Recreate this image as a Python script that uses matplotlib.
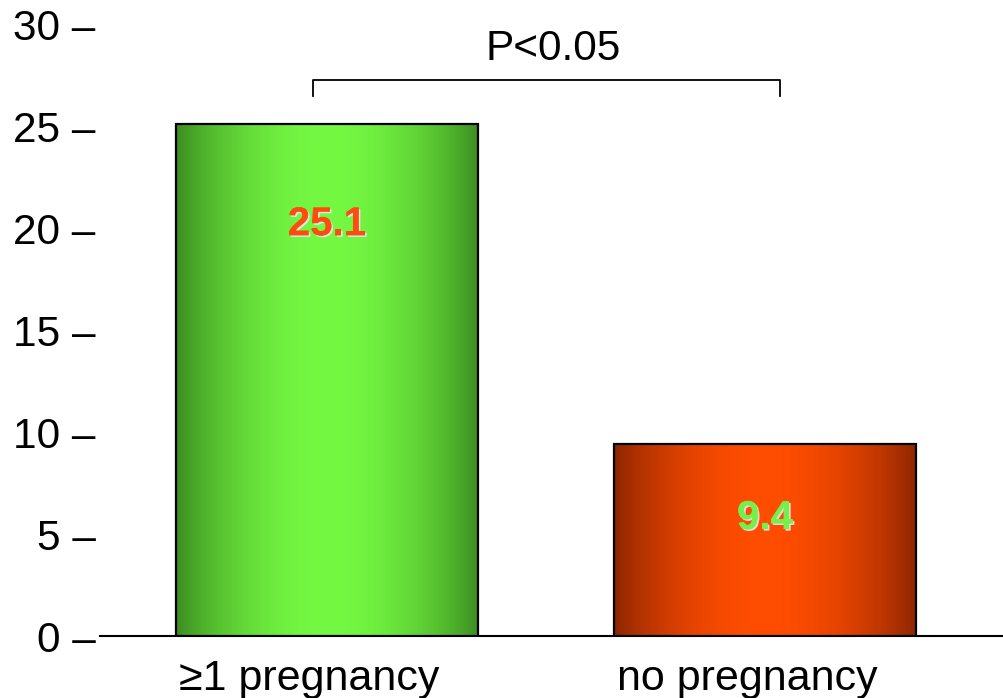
import numpy as np
import matplotlib.pyplot as plt
import matplotlib.patheffects as pe
import matplotlib.transforms as mtransforms
from matplotlib.colors import LinearSegmentedColormap

plt.rcParams['font.family'] = ['Liberation Sans', 'DejaVu Sans']

groups = ['≥1 pregnancy', 'no pregnancy']
values = [25.1, 9.4]
y_ticks = [0, 5, 10, 15, 20, 25, 30]
p_text = 'P<0.05'

# edge colour -> centre colour for each bar's horizontal gradient
bar_shades = [('#3a8a1f', '#74f842'), ('#8a2400', '#ff4d00')]
label_colors = ['#ff4a10', '#74f04a']
label_offsets = [-72, -53]  # points below the bar top


def gradient_bar(ax, x, h, width, edge, centre):
    cmap = LinearSegmentedColormap.from_list('g', [edge, centre])
    t = np.linspace(0, 1, 400)
    grad = (np.sin(np.pi * t) ** 0.8).reshape(1, -1)
    x0, x1 = x - width / 2, x + width / 2
    im = ax.imshow(grad, cmap=cmap, extent=(x0, x1, 0, h), aspect='auto',
                   interpolation='bicubic', vmin=0, vmax=1, zorder=2)
    rect = plt.Rectangle((x0, 0), width, h, facecolor='none',
                         edgecolor='black', linewidth=1.6, zorder=3)
    ax.add_patch(rect)
    im.set_clip_path(rect)


fig = plt.figure(figsize=(10.04, 6.98), dpi=100)
ax = fig.add_axes([100 / 1004, 62 / 698, 904 / 1004, 629 / 698])

xs = np.arange(len(groups))
width = 0.69
for x, v, (c0, c1), lc, off in zip(xs, values, bar_shades, label_colors, label_offsets):
    gradient_bar(ax, x, v, width, c0, c1)
    ax.annotate(f'{v}', (x, v), xytext=(0, off), textcoords='offset points',
                ha='center', va='center', fontsize=29, fontweight='bold',
                color=lc, zorder=4,
                path_effects=[pe.withSimplePatchShadow(offset=(1.2, -1.2),
                                                       shadow_rgbFace='#e8e8e8',
                                                       alpha=0.9),
                              pe.Normal()])

# significance bracket
bx0, bx1, by, bdrop = -0.032, 0.034 + 1, 27.25, 0.75
ax.plot([bx0, bx0, bx1, bx1], [by - bdrop, by, by, by - bdrop],
        color='black', linewidth=1.3, zorder=4)
ax.text(0.517, 28.8, p_text, ha='center', va='center', fontsize=30.5)

ax.set_xlim(-0.518, 1.546)
ax.set_ylim(0, 30.85)
ax.set_xticks(xs)
ax.set_xticklabels(groups, fontsize=31)
ax.set_yticks(y_ticks)
ax.set_yticklabels([f'{t} –' for t in y_ticks], fontsize=30.5)
ax.tick_params(axis='both', length=0)
ax.tick_params(axis='y', pad=3)
ax.tick_params(axis='x', pad=13)

# category names sit a little left of and below the bar centres
shift = mtransforms.ScaledTranslation(-18 / 100, -5 / 100, fig.dpi_scale_trans)
for lbl in ax.get_xticklabels():
    lbl.set_transform(lbl.get_transform() + shift)

for s in ['top', 'right', 'left']:
    ax.spines[s].set_visible(False)
ax.spines['bottom'].set_linewidth(1.5)
ax.spines['bottom'].set_zorder(1)

fig.savefig('out.png', dpi=100)
